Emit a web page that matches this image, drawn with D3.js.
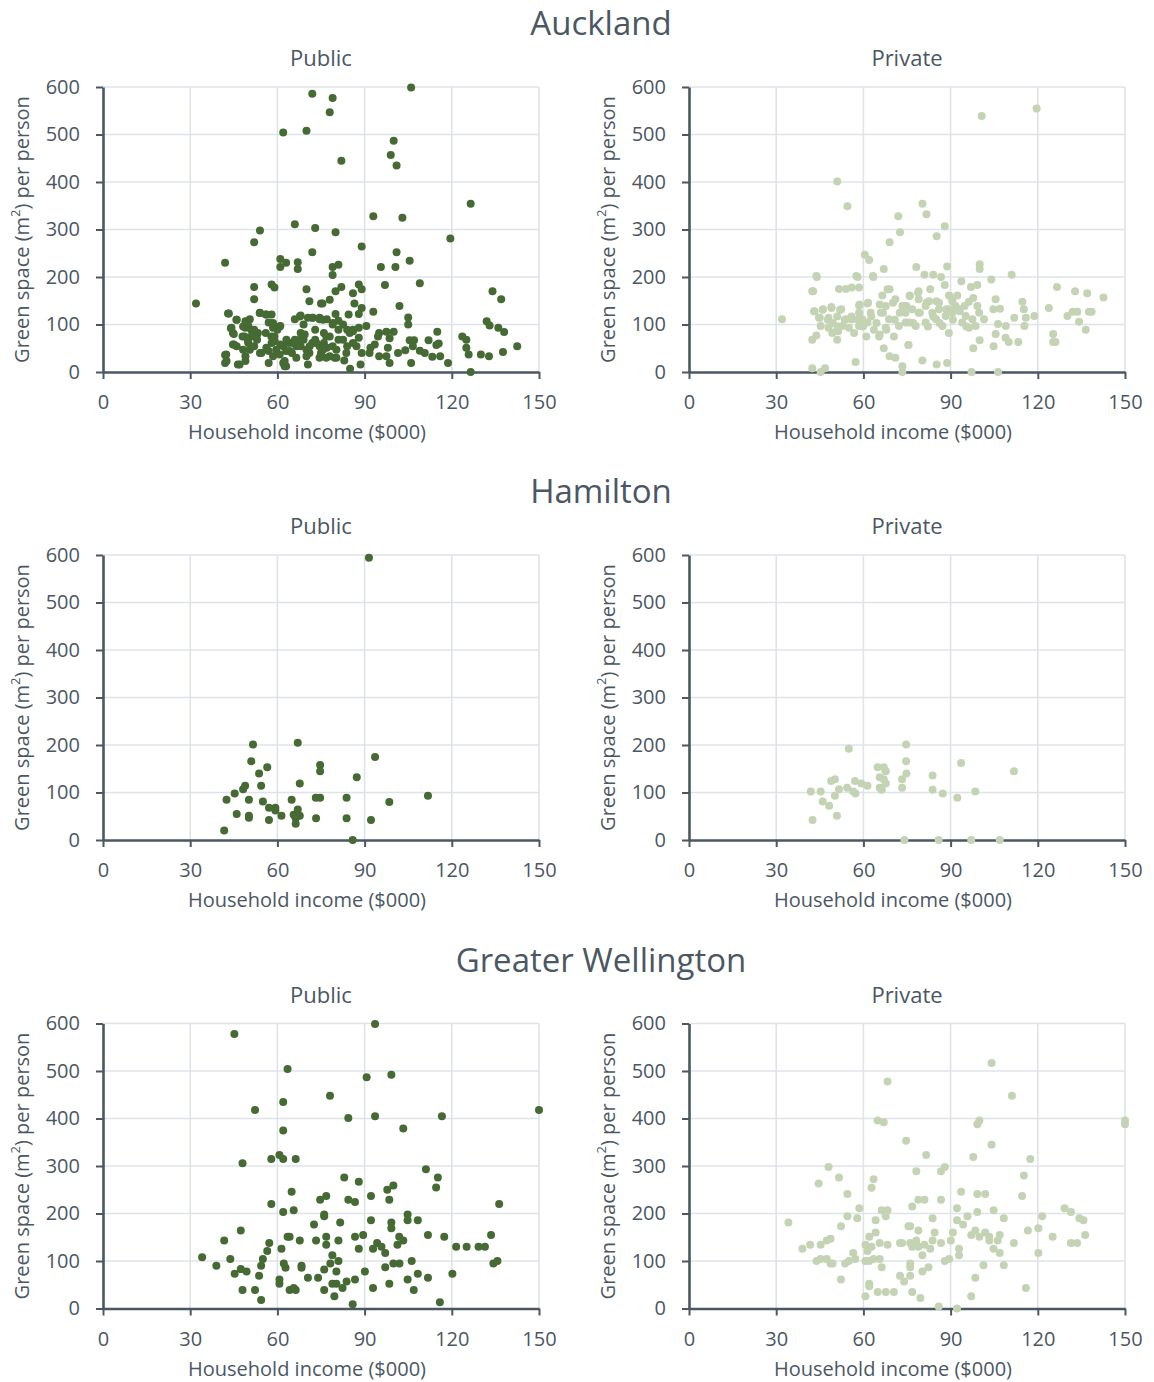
<!DOCTYPE html>
<html>
<head>
<meta charset="utf-8">
<script src="https://cdn.jsdelivr.net/npm/d3@7"></script>
<style>
  body { margin: 0; background: #fff; }
  text { font-family: "Open Sans", "Noto Sans", sans-serif; fill: #4b5763; }
  .grid line { stroke: #dfe3e8; stroke-width: 1.6; }
  .axis path, .axis line { stroke: #4b5763; }
  .axis path { stroke-width: 2.6; }
  .axis line { stroke-width: 2; }
</style>
</head>
<body>
<svg id="chart" width="1154" height="1382"></svg>
<script>

// region / panel labels
var regions = ["Auckland", "Hamilton", "Greater Wellington"];
var panels = ["Public", "Private"];
var xTicks = [0, 30, 60, 90, 120, 150];
var yTicks = [0, 100, 200, 300, 400, 500, 600];

// [household income ($000), green space m2 per person]
var aucklandPublic = [
  [72,586],[62,504],[70,508],[66,311],[54,298],[73,303],[52,273],[72,252],[42,230],[61,238],[63,230],[67,231],
  [61,221],[67,217],[32,144],[52,179],[58,184],[59,178],[52,153],[70,174],[71,149],[75,144],
  [43,123],[46,110],[44,92],[45,80],[45,58],[46,54],[42,36],[42,19],[47,16],
  [49,107],[50.5,111],[49,93],[48,75],[50,61],[50.5,47],[49,33],[49,23],[52,89],[53,79],[54,125],[56,121],
  [58,121],[57,104],[58.5,93],[60,89],[61,97],[59,75],[58,61],[57,44],[58.5,33],[57,19],[62,19],[63,12],
  [62,54],[64,61],[66,68],[68,82],[69,68],[68,54],[70,47],[71,40],[72,61],[73,68],[74.5,54],[76,82],
  [70.5,16],[66,111],[68,119],[70.5,114],[72,114],[74.5,114],[73,89],[69,100],[66.5,54],[65,40],[63,44],
  [61,58],[54,40],[52,54],[53,68],[51,75],[50,97],[56,82],
  [79,577],[78,547],[106,599],[82,445],[100,487],[99,457],[101,435],[126.5,354],[93,328],[103,325],[80,294],
  [119.5,281],[89,264],[101,252],[105.5,234],[95.6,221],[100.6,221],[79,221],[81,226],[79,204],[88,184],
  [89,174],[80,170],[82,179],[86,166],[97,183],[109,187],[102,139],[93,127],[75.5,144],[78,152],[86.5,144],
  [89,135],[88,122],[84.5,121],[80,122],[77,111],[74.5,111],[81,108],[79,100],[105,115],[105,100],[90.6,97],
  [88,93],[86,86],[84,89],[81,89],[78,75],[76,61],[95,82],[97.5,85],[100,85],[94.6,75],[98.6,71],[115,85],
  [112,67],[105.5,67],[107,67],[114.7,57],[115.5,60],[88,72],[86,61],[84,54],[81,68],[79,54],[77,51],[75,40],
  [89,40],[92,51],[93.5,58],[91.7,40],[98,51],[97.5,33],[95,33],[98.6,19],[101.5,40],[104,46],[106.6,54],
  [109,45],[110.7,40],[113.3,32],[116,33],[118.7,19],[106,19],[88.6,16],[85,7],[83,24],[79.7,30],[76.8,30],
  [123.6,75],[125,68],[125,51],[125.8,37],[130,37],[132.8,33],[137.6,42],[142.5,54],[132,107],[133,98],
  [136,93],[138,84],[134,170],[137,153],[126.5,0],
  [43.3,123],[45.9,110],[44.2,93],[44.7,82],[44.7,58],[42.4,37],[42.5,23],[46.4,16],[48.2,96],[48.7,75],
  [49.9,65],[48.2,47],[51,89],[53.3,82],[54.5,40],[56.2,51],[57.9,75],[59.1,65],[59.6,47],[60.8,37],
  [62.5,23],[64.2,44],[65.4,61],[67.7,68],[69.4,79],[71.1,54],[73.4,61],[75.7,47],[78,33],[80.3,47],
  [82.6,68],[84.9,82],[87.2,54],[53.9,124],[56.2,121],[58.5,103],[60.8,96],[67.7,117],[72.2,114],
  [75.7,110],[79.1,103],[82.6,100],[86,89],[63.1,68],[66.5,30],[70,33],[74.5,30],[62.5,12],[80.3,30],
  [76.8,75],[83.7,40]
];

var aucklandPrivate = [
  [51,401],[54.5,349],[72,328],[72.6,294],[69,273],[60.5,247],[62,236],[67,217],[44,200],[58,200],[63.4,200],
  [42.4,170],[51.6,175],[54,175],[56,178],[58.5,178],[68.3,174],[66.5,161],[32,111],[43,128],[46,131],
  [49,135],[52,131],[44.7,114],[48,114],[51,117],[54,111],[45.3,97],[48,93],[49.3,82],[51,89],[52.8,97],
  [55,93],[56.8,82],[58.5,97],[59.6,111],[61.4,104],[61.4,144],[62.5,125],[63.6,89],[65.4,75],[67.7,93],
  [68.8,111],[70.5,75],[72.2,97],[74.5,125],[75.7,104],[71,153],[73.4,139],[66,125],[67.7,139],[58.5,140],
  [56,111],[58.5,125],[42.4,68],[43.8,77],[51,68],[57.3,21],[42.4,8],[45.3,0],[46.8,8],[67,50],[69,33],
  [71,30],[73.4,12],[73.4,0],[75.5,57],
  [100.7,539],[119.6,555],[80.3,354],[81.7,332],[88,307],[85.2,286],[88.8,222],[100,227],[100,217],
  [78.2,221],[81,205],[84,205],[86.7,200],[88,183],[93.7,191],[97,179],[99.2,183],[104,195],[111,205],
  [83,174],[79,170],[76,161],[89.4,161],[92.3,161],[90.6,149],[105.5,153],[114.7,148],[115.2,132],
  [97.8,156],[96.3,148],[99.2,139],[104.7,132],[107,133],[126.6,179],[132.8,170],[137,166],[142.6,157],
  [123.8,135],[130.2,118],[132,127],[133.6,127],[137.6,127],[138.5,127],[134.2,106],[136.5,89],
  [125.3,80],[125.3,63],[126.1,63],[111.9,114],[115.9,114],[115.4,97],[118.8,118],[106.3,101],[109,97],
  [105.5,80],[108.9,72],[110,63],[113.3,63],[97.8,50],[100,67],[104.8,54],[97.2,0],[106.3,0],[80.3,24],
  [85.2,16],[88.8,19],[75.5,57],
  [74.5,139],[76.8,132],[79,125],[81.4,139],[83.7,125],[86,132],[88.3,118],[90.6,125],[93,132],[95.2,118],
  [97.5,111],[99.8,125],[101.5,111],[74.5,104],[78,97],[81.4,104],[85,111],[87.2,97],[89.4,82],[94,104],
  [96.3,93],[98.6,97],[79,153],[82.6,149],[86,146],[89.4,132],[91.7,139],
  [43.2,128],[46.1,132],[49,137],[52.4,132],[45,114],[47.8,110],[49.5,103],[51.3,96],[53.6,110],[55.9,117],
  [58.7,142],[58.1,110],[59.9,96],[61.6,146],[62.7,117],[64.5,103],[65.6,142],[66.7,125],[67.9,89],
  [69,174],[70.2,146],[70.8,110],[72.5,125],[74.8,139],[75.9,160],[77.1,103],[78.8,167],[79.4,125],
  [81.7,146],[82.2,96],[84,117],[85.1,149],[86.2,103],[88.5,132],[89.7,160],[90.8,110],[93.1,128],
  [94.8,139],[95.4,96],[57.6,202],[63.3,202],[42.7,170],[43.8,202],[51.3,86],[61,75],[65.6,79]
];

var hamiltonPublic = [
  [91.5,594],[51.6,201],[67,205],[51,166],[56.5,153],[53.7,140],[93.6,175],[74.7,158],[74.7,145],[87.3,132],
  [48.9,114],[48.2,107],[54.4,114],[67.7,119],[45.3,98],[42.5,85],[50.2,85],[55,81],[57.1,68],[59.3,68],
  [59.3,62],[64.9,85],[73.2,89],[74.7,89],[83.8,89],[111.8,93],[98.5,80],[46,55],[50.2,51],[50.2,47],
  [57.1,42],[61.4,51],[65.6,53],[67,64],[67.7,51],[66.3,46],[66.3,34],[73.3,46],[83.8,46],[92.2,42],
  [41.7,20],[85.9,0]
];

var hamiltonPrivate = [
  [55,192],[74.7,201],[74.7,166],[93.6,162],[111.8,145],[64.9,153],[67,153],[67.7,145],[74.8,140],[83.8,136],
  [65.6,132],[67,128],[67.7,119],[73.3,128],[48.9,124],[50.2,128],[57.1,124],[59.3,119],[61.4,114],
  [51.6,107],[54.4,110],[56.5,102],[57.3,98],[65.6,110],[66.3,106],[73.3,110],[83.8,106],[87.3,98],
  [98.5,102],[92.3,89],[41.9,102],[45.3,102],[50.2,93],[46,81],[48.2,72],[50.9,51],[42.5,42],
  [74.1,0],[85.9,0],[97.1,0],[106.9,0]
];

var wellingtonPublic = [
  [45.2,578],[93.6,599],[63.5,504],[90.7,487],[99.2,492],[78.1,448],[62,435],[52.3,418],[84.4,401],[93.6,405],
  [116.6,405],[150,418],[62,375],[103.3,379],[48,306],[57.9,315],[60.7,323],[62,315],[66.3,315],[111.1,293],
  [115.2,276],[114.6,255],[83,276],[88,267],[64.9,246],[74.7,229],[76.8,237],[84.4,229],[86.7,224],[92.2,237],
  [97.8,250],[99.9,259],[98.5,229],[57.9,220],[62,203],[65.6,207],[136.3,220],[76.1,198],[76.1,194],
  [72.6,177],[81.6,181],[92.2,186],[99.2,181],[99.2,169],[104.8,198],[104.8,186],[108.3,186],[47.4,164],
  [41.7,143],[57.2,138],[56.5,121],[61.4,126],[63.5,151],[64.2,151],[67.7,143],[73.3,143],[76.8,151],
  [76.8,134],[81,143],[86.7,151],[89.5,155],[88,126],[92.9,126],[94.3,138],[95.8,130],[97.1,117],[101.9,151],
  [103.3,143],[101.3,134],[111.8,155],[117.4,151],[121.5,130],[125.1,130],[129.2,130],[131.4,130],
  [133.5,155],[134.3,95],[135.7,100],[34.1,108],[39,90],[43.8,104],[45.3,73],[47.4,83],[49.4,78],[55,104],
  [54.4,90],[53.7,69],[62.2,95],[62.8,86],[68.3,90],[68.3,86],[60.7,61],[60.7,52],[70.5,65],[74,65],
  [78.9,112],[78.2,95],[81,100],[76.1,82],[80.3,78],[78.9,52],[80.3,52],[82.4,43],[83.8,57],[86.7,61],
  [90.1,78],[97.1,87],[99.9,95],[102,95],[106.2,100],[108.3,73],[111.8,65],[104.8,61],[98.5,52],[92.9,43],
  [106.9,39],[120.2,73],[48,39],[52.3,39],[54.4,18],[64.2,39],[65.6,43],[66.3,39],[76.1,39],[79.6,26],
  [85.9,9],[115.9,13]
];

var wellingtonPrivate = [
  [104.1,517],[68.3,478],[111.1,448],[64.9,396],[67,392],[99.2,388],[99.9,396],[150,396],[150,388],
  [74.7,353],[104.1,345],[81.6,323],[97.8,319],[117.4,315],[48,298],[51.6,276],[44.6,263],[63.5,272],
  [62.8,254],[78.2,289],[86.7,289],[88,298],[115.2,280],[114.6,237],[54.5,241],[93.6,246],[99.2,241],
  [101.9,241],[58.6,211],[66.3,207],[68.3,207],[67.7,194],[76.8,215],[78.9,229],[81,229],[86.7,229],
  [92.2,211],[95.8,194],[99.2,203],[104.8,207],[108.3,190],[121.5,194],[129.2,211],[131.4,203],[134.3,190],
  [135.7,186],[34.2,181],[54.5,194],[57.9,190],[64.2,186],[83.8,190],[92.2,186],[94.3,177],[52.3,173],
  [64.2,160],[62,151],[75.5,173],[76.1,173],[78.9,164],[84.5,160],[90.8,160],[97.1,155],[98.5,164],
  [99.9,151],[101.9,160],[103.3,151],[106.9,155],[116.6,164],[120.2,169],[125.1,151],[136.3,155],
  [39,126],[41.7,134],[45.3,134],[47.4,143],[48.7,147],[60.7,134],[61.4,121],[62.8,130],[65.6,138],
  [68.3,134],[72.6,138],[73.3,138],[76.1,138],[76.8,130],[78.2,143],[78.9,130],[81,134],[83,126],[83.8,143],
  [86.7,138],[90.1,143],[92.9,126],[92.9,112],[103.3,143],[104.8,126],[106.2,143],[106.9,117],[111.8,138],
  [120.2,117],[131.4,138],[133.5,138],[43.9,100],[45.3,104],[47.4,104],[48.7,95],[49.4,95],[53.7,95],
  [55,100],[56.5,117],[57.2,104],[60.7,100],[62,100],[63.5,104],[65.6,104],[66.3,87],[76.1,95],[76.1,87],
  [80.3,112],[82.4,87],[80.3,78],[88,100],[89.5,104],[101.3,91],[108.3,91],[72.6,69],[76.1,69],[74,57],
  [52.3,61],[62,52],[62,47],[64.9,35],[67.7,35],[70.5,35],[60.7,26],[76.8,35],[79.6,22],[98.5,65],
  [97.1,26],[115.9,43],[85.9,4],[92.2,0]
];

var series = [
  [aucklandPublic, aucklandPrivate],
  [hamiltonPublic, hamiltonPrivate],
  [wellingtonPublic, wellingtonPrivate]
];
var color = d3.scaleOrdinal().domain(panels).range(["#466a33", "#c5d3b5"]);

var width = 436, height = 285,
    rowTop = [87, 555, 1023.5],
    colLeft = [103, 689];

var x = d3.scaleLinear().domain([0, 150]).range([0, width]);
var y = d3.scaleLinear().domain([0, 600]).range([height, 0]);

var svg = d3.select("#chart");

regions.forEach(function(region, ri) {
  var top = rowTop[ri];

  svg.append("text")
      .attr("x", 601).attr("y", top - 52)
      .attr("text-anchor", "middle")
      .style("font-size", "33px")
      .style("font-weight", 500)
      .text(region);

  panels.forEach(function(panel, pi) {
    var g = svg.append("g")
        .attr("transform", "translate(" + colLeft[pi] + "," + top + ")");

    g.append("text")
        .attr("x", width / 2).attr("y", -21)
        .attr("text-anchor", "middle")
        .style("font-size", "22px")
        .text(panel);

    // grid
    var grid = g.append("g").attr("class", "grid");
    grid.selectAll(".vx").data(xTicks.slice(1)).enter().append("line")
        .attr("x1", function(d) { return x(d); }).attr("x2", function(d) { return x(d); })
        .attr("y1", 0).attr("y2", height);
    grid.selectAll(".hy").data(yTicks.slice(1)).enter().append("line")
        .attr("x1", 0).attr("x2", width)
        .attr("y1", function(d) { return y(d); }).attr("y2", function(d) { return y(d); });

    g.append("g")
        .attr("class", "axis")
        .call(d3.axisLeft(y).tickValues(yTicks).tickSize(7).tickSizeOuter(0).tickPadding(16))
        .selectAll("text").style("font-size", "20px").attr("fill", null);

    g.append("g")
        .attr("class", "axis")
        .attr("transform", "translate(0," + height + ")")
        .call(d3.axisBottom(x).tickValues(xTicks).tickSize(7).tickSizeOuter(0).tickPadding(16))
        .selectAll("text").style("font-size", "20px").attr("fill", null);

    g.append("text")
        .attr("x", width / 2 - 14).attr("y", height + 67)
        .attr("text-anchor", "middle")
        .style("font-size", "20px")
        .text("Household income ($000)");

    var yl = g.append("text")
        .attr("transform", "translate(-81," + (height / 2) + ") rotate(-90)")
        .attr("text-anchor", "middle")
        .attr("dy", "0.35em")
        .style("font-size", "20px");
    yl.append("tspan").text("Green space (m");
    yl.append("tspan").attr("baseline-shift", "super").style("font-size", "13px").text("2");
    yl.append("tspan").text(") per person");

    g.selectAll(".dot")
        .data(series[ri][pi])
      .enter().append("circle")
        .attr("class", "dot")
        .attr("r", 4)
        .attr("cx", function(d) { return x(d[0]); })
        .attr("cy", function(d) { return y(d[1]); })
        .style("fill", color(panel));
  });
});

</script>
</body>
</html>
